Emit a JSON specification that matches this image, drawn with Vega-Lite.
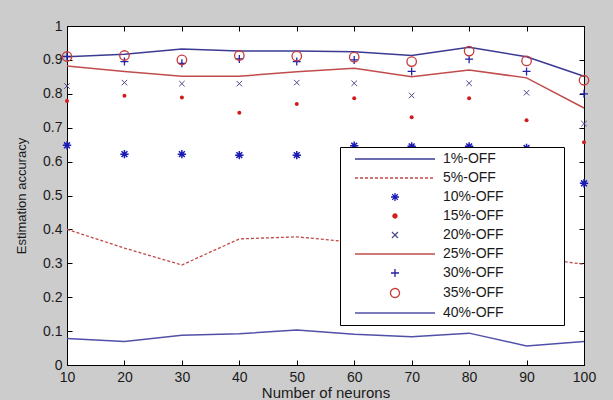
{
  "$schema": "https://vega.github.io/schema/vega-lite/v6.json",
  "width": 517,
  "height": 339,
  "autosize": {"type": "none"},
  "padding": {"left": 67, "top": 26, "right": 29, "bottom": 35},
  "background": "#cccccc",
  "config": {
    "view": {"stroke": "black", "fill": "white", "strokeWidth": 1},
    "axis": {"grid": false, "domainColor": "black", "tickColor": "black", "labelFont": "Liberation Sans", "titleFont": "Liberation Sans", "titleFontWeight": "normal", "labelColor": "#1a1a1a", "titleColor": "#1a1a1a", "labelFlush": false, "tickSize": -5}
  },
  "data": {
    "values": [
      {"n": 10, "s": "1%-OFF", "v": 0.909}, {"n": 20, "s": "1%-OFF", "v": 0.917}, {"n": 30, "s": "1%-OFF", "v": 0.932}, {"n": 40, "s": "1%-OFF", "v": 0.926}, {"n": 50, "s": "1%-OFF", "v": 0.926}, {"n": 60, "s": "1%-OFF", "v": 0.924}, {"n": 70, "s": "1%-OFF", "v": 0.913}, {"n": 80, "s": "1%-OFF", "v": 0.937}, {"n": 90, "s": "1%-OFF", "v": 0.909}, {"n": 100, "s": "1%-OFF", "v": 0.852},
      {"n": 10, "s": "5%-OFF", "v": 0.400}, {"n": 20, "s": "5%-OFF", "v": 0.345}, {"n": 30, "s": "5%-OFF", "v": 0.295}, {"n": 40, "s": "5%-OFF", "v": 0.372}, {"n": 50, "s": "5%-OFF", "v": 0.378}, {"n": 60, "s": "5%-OFF", "v": 0.362}, {"n": 70, "s": "5%-OFF", "v": 0.350}, {"n": 80, "s": "5%-OFF", "v": 0.340}, {"n": 90, "s": "5%-OFF", "v": 0.320}, {"n": 100, "s": "5%-OFF", "v": 0.297},
      {"n": 10, "s": "10%-OFF", "v": 0.648}, {"n": 20, "s": "10%-OFF", "v": 0.622}, {"n": 30, "s": "10%-OFF", "v": 0.622}, {"n": 40, "s": "10%-OFF", "v": 0.619}, {"n": 50, "s": "10%-OFF", "v": 0.619}, {"n": 60, "s": "10%-OFF", "v": 0.647}, {"n": 70, "s": "10%-OFF", "v": 0.645}, {"n": 80, "s": "10%-OFF", "v": 0.645}, {"n": 90, "s": "10%-OFF", "v": 0.640}, {"n": 100, "s": "10%-OFF", "v": 0.536},
      {"n": 10, "s": "15%-OFF", "v": 0.779}, {"n": 20, "s": "15%-OFF", "v": 0.794}, {"n": 30, "s": "15%-OFF", "v": 0.789}, {"n": 40, "s": "15%-OFF", "v": 0.744}, {"n": 50, "s": "15%-OFF", "v": 0.770}, {"n": 60, "s": "15%-OFF", "v": 0.787}, {"n": 70, "s": "15%-OFF", "v": 0.731}, {"n": 80, "s": "15%-OFF", "v": 0.787}, {"n": 90, "s": "15%-OFF", "v": 0.722}, {"n": 100, "s": "15%-OFF", "v": 0.657},
      {"n": 10, "s": "20%-OFF", "v": 0.823}, {"n": 20, "s": "20%-OFF", "v": 0.833}, {"n": 30, "s": "20%-OFF", "v": 0.830}, {"n": 40, "s": "20%-OFF", "v": 0.830}, {"n": 50, "s": "20%-OFF", "v": 0.833}, {"n": 60, "s": "20%-OFF", "v": 0.831}, {"n": 70, "s": "20%-OFF", "v": 0.795}, {"n": 80, "s": "20%-OFF", "v": 0.831}, {"n": 90, "s": "20%-OFF", "v": 0.803}, {"n": 100, "s": "20%-OFF", "v": 0.712},
      {"n": 10, "s": "25%-OFF", "v": 0.882}, {"n": 20, "s": "25%-OFF", "v": 0.866}, {"n": 30, "s": "25%-OFF", "v": 0.852}, {"n": 40, "s": "25%-OFF", "v": 0.852}, {"n": 50, "s": "25%-OFF", "v": 0.865}, {"n": 60, "s": "25%-OFF", "v": 0.875}, {"n": 70, "s": "25%-OFF", "v": 0.850}, {"n": 80, "s": "25%-OFF", "v": 0.870}, {"n": 90, "s": "25%-OFF", "v": 0.847}, {"n": 100, "s": "25%-OFF", "v": 0.758},
      {"n": 10, "s": "30%-OFF", "v": 0.910}, {"n": 20, "s": "30%-OFF", "v": 0.895}, {"n": 30, "s": "30%-OFF", "v": 0.890}, {"n": 40, "s": "30%-OFF", "v": 0.903}, {"n": 50, "s": "30%-OFF", "v": 0.895}, {"n": 60, "s": "30%-OFF", "v": 0.900}, {"n": 70, "s": "30%-OFF", "v": 0.866}, {"n": 80, "s": "30%-OFF", "v": 0.902}, {"n": 90, "s": "30%-OFF", "v": 0.866}, {"n": 100, "s": "30%-OFF", "v": 0.800},
      {"n": 10, "s": "35%-OFF", "v": 0.910}, {"n": 20, "s": "35%-OFF", "v": 0.913}, {"n": 30, "s": "35%-OFF", "v": 0.900}, {"n": 40, "s": "35%-OFF", "v": 0.913}, {"n": 50, "s": "35%-OFF", "v": 0.911}, {"n": 60, "s": "35%-OFF", "v": 0.908}, {"n": 70, "s": "35%-OFF", "v": 0.895}, {"n": 80, "s": "35%-OFF", "v": 0.926}, {"n": 90, "s": "35%-OFF", "v": 0.897}, {"n": 100, "s": "35%-OFF", "v": 0.840},
      {"n": 10, "s": "40%-OFF", "v": 0.078}, {"n": 20, "s": "40%-OFF", "v": 0.069}, {"n": 30, "s": "40%-OFF", "v": 0.088}, {"n": 40, "s": "40%-OFF", "v": 0.092}, {"n": 50, "s": "40%-OFF", "v": 0.103}, {"n": 60, "s": "40%-OFF", "v": 0.091}, {"n": 70, "s": "40%-OFF", "v": 0.083}, {"n": 80, "s": "40%-OFF", "v": 0.094}, {"n": 90, "s": "40%-OFF", "v": 0.056}, {"n": 100, "s": "40%-OFF", "v": 0.069}
    ]
  },
  "resolve": {"axis": {"x": "independent", "y": "independent"}},
  "layer": [
    {
      "encoding": {
        "x": {"field": "n", "type": "quantitative", "scale": {"domain": [10, 100], "nice": false, "zero": false},
              "axis": {"orient": "bottom", "values": [10, 20, 30, 40, 50, 60, 70, 80, 90, 100], "labelPadding": 10, "labelFontSize": 14, "title": "Number of neurons", "titleFontSize": 15, "titlePadding": 1}},
        "y": {"field": "v", "type": "quantitative", "scale": {"domain": [0, 1], "nice": false, "zero": false},
              "axis": {"orient": "left", "values": [0, 0.1, 0.2, 0.3, 0.4, 0.5, 0.6, 0.7, 0.8, 0.9, 1], "format": "~g", "labelPadding": 10, "labelFontSize": 14, "title": "Estimation accuracy", "titleFontSize": 13, "titlePadding": 14}}
      },
      "layer": [
        {
          "transform": [{"filter": {"field": "s", "oneOf": ["1%-OFF", "25%-OFF", "40%-OFF"]}}],
          "mark": {"type": "line", "strokeWidth": 1.5},
          "encoding": {
            "color": {"field": "s", "type": "nominal",
              "scale": {"domain": ["1%-OFF", "5%-OFF", "10%-OFF", "15%-OFF", "20%-OFF", "25%-OFF", "30%-OFF", "35%-OFF", "40%-OFF"],
                        "range": ["#3a3a94", "#c04848", "#1a1ab4", "#d01c1c", "#4a4a8c", "#c04c4c", "#2222a4", "#c83a3a", "#5050a8"]},
              "legend": {
                "orient": "none", "legendX": 273, "legendY": 121, "direction": "vertical",
                "title": " ", "titleOrient": "right", "titlePadding": 55,
                "fillColor": "white", "strokeColor": "black", "padding": 5,
                "symbolType": "M-8,0L8,0", "symbolSize": 100, "symbolStrokeWidth": 1.3,
                "rowPadding": 5, "symbolOffset": 43, "labelOffset": 84,
                "labelAlign": "left",
                "labelFont": "Liberation Sans", "labelFontSize": 14, "labelColor": "#1a1a1a",
                "encode": {
                  "labels": {
                    "update": {
                      "align": {"value": "left"},
                      "x": {"value": 98}
                    }
                  },
                  "symbols": {
                    "update": {
                      "shape": [
                        {"test": "datum.value === '10%-OFF'", "value": "M-0.8,0L0.8,0M0,-0.8L0,0.8M-0.56,-0.56L0.56,0.56M-0.56,0.56L0.56,-0.56"},
                        {"test": "datum.value === '15%-OFF'", "value": "M0.4,0A0.4,0.4,0,1,1,-0.4,0A0.4,0.4,0,1,1,0.4,0Z"},
                        {"test": "datum.value === '20%-OFF'", "value": "M-0.6,-0.6L0.6,0.6M-0.6,0.6L0.6,-0.6"},
                        {"test": "datum.value === '30%-OFF'", "value": "M-0.8,0L0.8,0M0,-0.8L0,0.8"},
                        {"test": "datum.value === '35%-OFF'", "value": "M0.9,0A0.9,0.9,0,1,1,-0.9,0A0.9,0.9,0,1,1,0.9,0Z"},
                        {"value": "M-8,0L8,0"}
                      ],
                      "strokeDash": [{"test": "datum.value === '5%-OFF'", "value": [3, 2]}, {"value": [1, 0]}],
                      "fill": [{"test": "datum.value === '15%-OFF'", "scale": "color", "field": "value"}, {"value": "transparent"}],
                      "fillOpacity": [{"test": "datum.value === '15%-OFF'", "value": 1}, {"value": 0}],
                      "stroke": {"scale": "color", "field": "value"},
                      "opacity": {"value": 1}
                    }
                  }
                }
              }
            }
          }
        },
        {
          "transform": [{"filter": {"field": "s", "equal": "5%-OFF"}}],
          "mark": {"type": "line", "strokeWidth": 1.3, "strokeDash": [3, 2]},
          "encoding": {"color": {"field": "s", "type": "nominal"}}
        },
        {
          "transform": [{"filter": {"field": "s", "equal": "10%-OFF"}}],
          "mark": {"type": "point", "shape": "M-1,0L1,0M0,-1L0,1M-0.7,-0.7L0.7,0.7M-0.7,0.7L0.7,-0.7", "size": 70, "filled": false, "strokeWidth": 1.5, "opacity": 1},
          "encoding": {"color": {"field": "s", "type": "nominal"}}
        },
        {
          "transform": [{"filter": {"field": "s", "equal": "15%-OFF"}}],
          "mark": {"type": "circle", "size": 16, "opacity": 1},
          "encoding": {"color": {"field": "s", "type": "nominal"}}
        },
        {
          "transform": [{"filter": {"field": "s", "equal": "20%-OFF"}}],
          "mark": {"type": "point", "shape": "M-1,-1L1,1M-1,1L1,-1", "size": 30, "filled": false, "strokeWidth": 1, "opacity": 1},
          "encoding": {"color": {"field": "s", "type": "nominal"}}
        },
        {
          "transform": [{"filter": {"field": "s", "equal": "30%-OFF"}}],
          "mark": {"type": "point", "shape": "M-1,0L1,0M0,-1L0,1", "size": 64, "filled": false, "strokeWidth": 1.3, "opacity": 1},
          "encoding": {"color": {"field": "s", "type": "nominal"}}
        },
        {
          "transform": [{"filter": {"field": "s", "equal": "35%-OFF"}}],
          "mark": {"type": "point", "shape": "circle", "size": 90, "filled": false, "strokeWidth": 1.3, "opacity": 1},
          "encoding": {"color": {"field": "s", "type": "nominal"}}
        }
      ]
    },
    {
      "mark": {"type": "point", "opacity": 0},
      "encoding": {
        "x": {"field": "n", "type": "quantitative", "scale": {"domain": [10, 100], "nice": false, "zero": false},
              "axis": {"orient": "top", "values": [10, 20, 30, 40, 50, 60, 70, 80, 90, 100], "labels": false, "title": null}},
        "y": {"field": "v", "type": "quantitative", "scale": {"domain": [0, 1], "nice": false, "zero": false},
              "axis": {"orient": "right", "values": [0, 0.1, 0.2, 0.3, 0.4, 0.5, 0.6, 0.7, 0.8, 0.9, 1], "labels": false, "title": null}}
      }
    }
  ]
}
